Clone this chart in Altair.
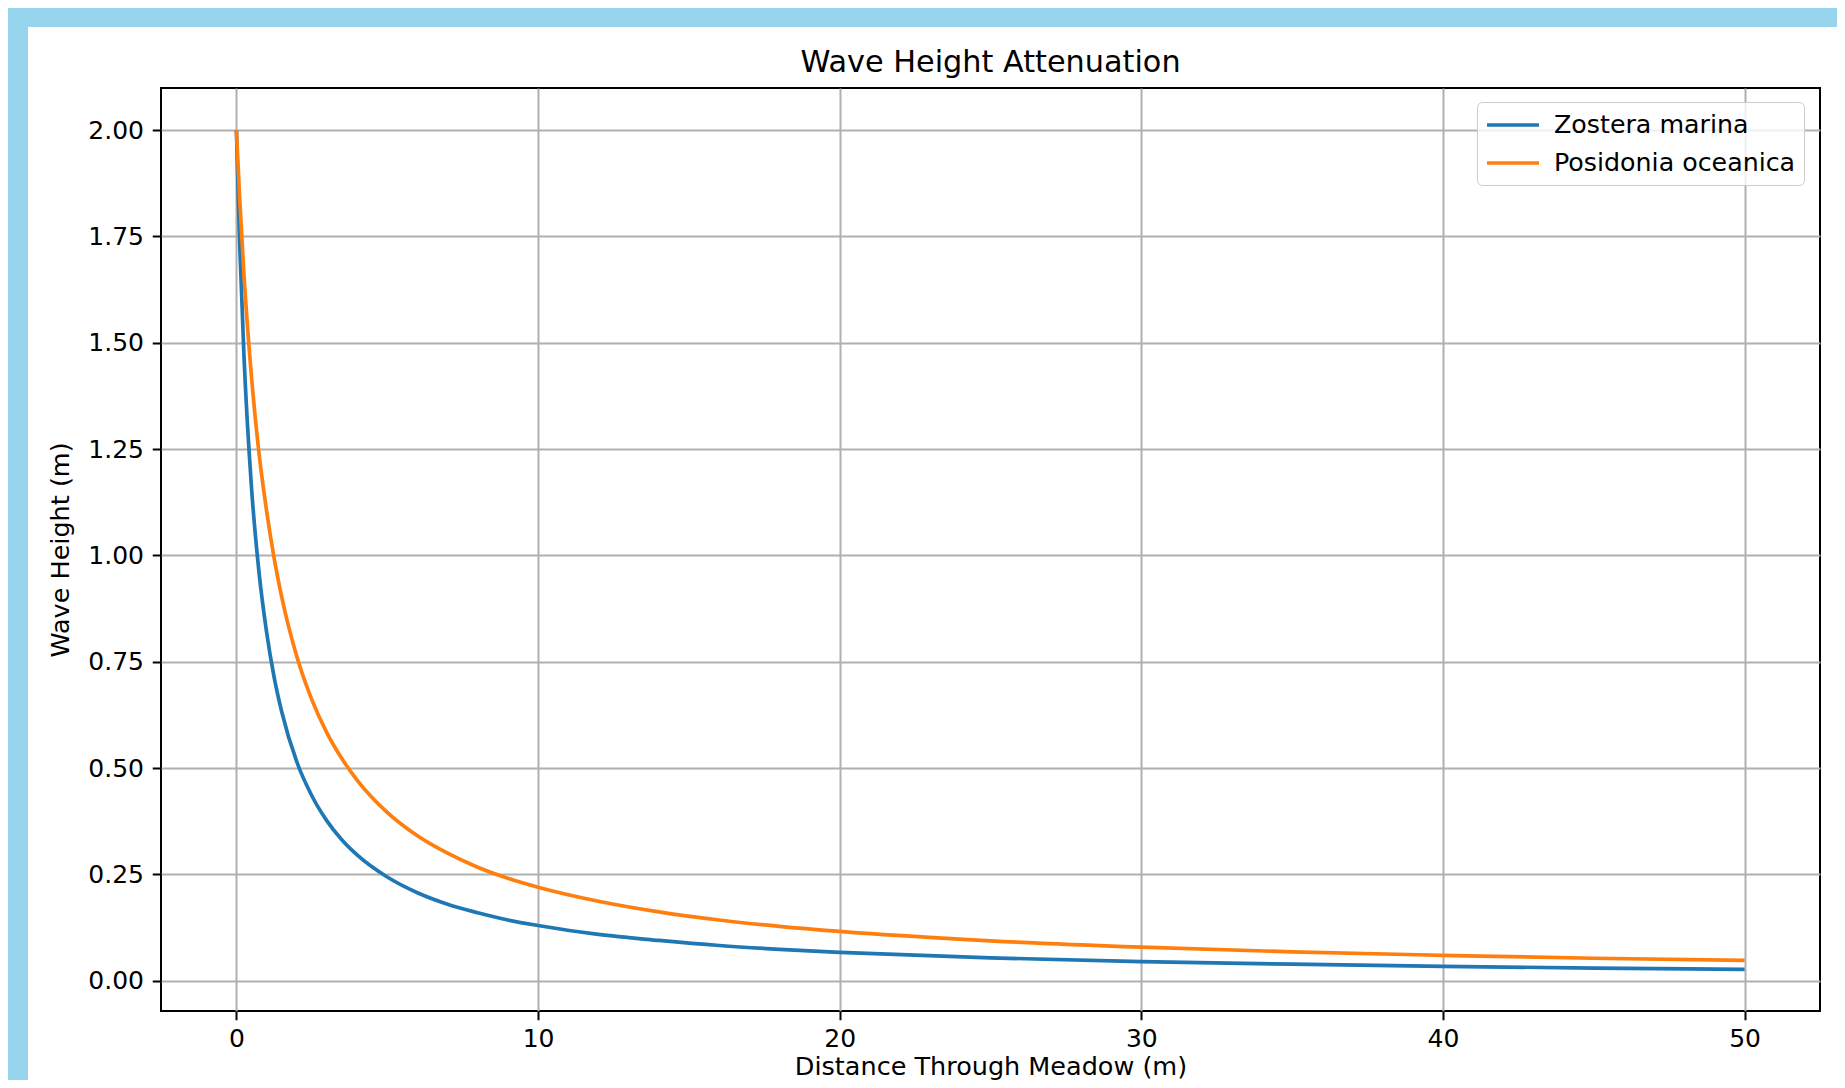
import altair as alt
import pandas as pd

# ---- data ----
distance = [0, 0.1, 0.25, 0.5, 0.75, 1, 1.25, 1.5, 2, 2.5, 3, 3.5, 4, 5, 6, 7, 8, 9,
            10, 12, 14, 16, 18, 20, 25, 30, 35, 40, 45, 50]
zostera = [2.00, 1.75, 1.47, 1.16, 0.96, 0.82, 0.714, 0.633, 0.515, 0.435, 0.376, 0.331,
           0.296, 0.244, 0.207, 0.180, 0.160, 0.143, 0.130, 0.109, 0.095, 0.083, 0.074,
           0.067, 0.054, 0.045, 0.039, 0.034, 0.030, 0.027]
posidonia = [2.00, 1.85, 1.66, 1.42, 1.24, 1.105, 0.994, 0.903, 0.763, 0.661, 0.583, 0.522,
             0.472, 0.396, 0.341, 0.300, 0.267, 0.241, 0.220, 0.187, 0.162, 0.143, 0.128,
             0.116, 0.094, 0.079, 0.068, 0.060, 0.053, 0.048]
species = ["Zostera marina", "Posidonia oceanica"]
colors = ["#1f77b4", "#ff7f0e"]
x_ticks = [0, 10, 20, 30, 40, 50]
y_ticks = [0, 0.25, 0.5, 0.75, 1.0, 1.25, 1.5, 1.75, 2.0]

df = pd.DataFrame({
    "distance": distance + distance,
    "height": zostera + posidonia,
    "species": [species[0]] * len(distance) + [species[1]] * len(distance),
})

W, H = 1659, 923
PAD = {"left": 153, "top": 80, "right": 17, "bottom": 69}
FONT = "DejaVu Sans"
BAND = "#97d5ee"

x_axis = alt.Axis(
    values=x_ticks, format="d", title="Distance Through Meadow (m)",
    domain=False, grid=True, gridColor="#b0b0b0", gridWidth=2,
    tickColor="black", tickWidth=2, tickSize=8.75, labelPadding=7,
    labelFontSize=25, labelColor="black", labelFont=FONT,
    labelFlush=False, labelOverlap=False,
    titleFontSize=25.5, titleFontWeight="normal", titleColor="black", titleFont=FONT,
    titleX=W / 2, titleY=63, titleBaseline="alphabetic", titleAlign="center",
)
y_axis = alt.Axis(
    values=y_ticks, format=".2f", title="Wave Height (m)",
    domain=False, grid=True, gridColor="#b0b0b0", gridWidth=2,
    tickColor="black", tickWidth=2, tickSize=8.75, labelPadding=8.75,
    labelFontSize=25, labelColor="black", labelFont=FONT,
    labelFlush=False, labelOverlap=False,
    titleFontSize=25.5, titleFontWeight="normal", titleColor="black", titleFont=FONT,
    titleX=-92.5, titleY=H / 2, titleAngle=270, titleBaseline="alphabetic",
    titleAlign="center",
)

lines = alt.Chart(df).mark_line(strokeWidth=3.7, interpolate="monotone").encode(
    x=alt.X("distance:Q", scale=alt.Scale(domain=[-2.5, 52.5], nice=False, zero=False),
            axis=x_axis),
    y=alt.Y("height:Q", scale=alt.Scale(domain=[-0.071, 2.099], nice=False, zero=False),
            axis=y_axis),
    color=alt.Color(
        "species:N",
        scale=alt.Scale(domain=species, range=colors),
        legend=alt.Legend(
            title=None, orient="none", legendX=1316, legendY=14,
            fillColor="rgba(255,255,255,0.8)", strokeColor="#cccccc", cornerRadius=5,
            padding=8, labelFontSize=25.3, labelColor="black", labelFont=FONT,
            labelLimit=600,
            symbolType="M-1,0L3,0", symbolSize=676, symbolStrokeWidth=3.7,
            labelOffset=39, rowPadding=9,
        ),
    ),
)

band_src = alt.Data(values=[{"band": 1}])
top_band = alt.Chart(band_src).mark_rect(color=BAND, strokeWidth=0).encode(
    x=alt.value(-PAD["left"]), x2=alt.value(W + PAD["right"]),
    y=alt.value(-PAD["top"]), y2=alt.value(-61),
)
left_band = alt.Chart(band_src).mark_rect(color=BAND, strokeWidth=0).encode(
    x=alt.value(-PAD["left"]), x2=alt.value(-133),
    y=alt.value(-PAD["top"]), y2=alt.value(H + PAD["bottom"]),
)

chart = alt.layer(top_band, left_band, lines).properties(
    width=W, height=H,
    title=alt.TitleParams("Wave Height Attenuation", fontSize=30.3, fontWeight="normal",
                          color="black", font=FONT, anchor="middle", offset=-94,
                          baseline="alphabetic"),
    autosize=alt.AutoSizeParams(type="none"),
    padding=PAD,
    background="white",
).configure_view(stroke="black", strokeWidth=2)

chart.save("out.html", embed_options={"renderer": "svg", "actions": False})
